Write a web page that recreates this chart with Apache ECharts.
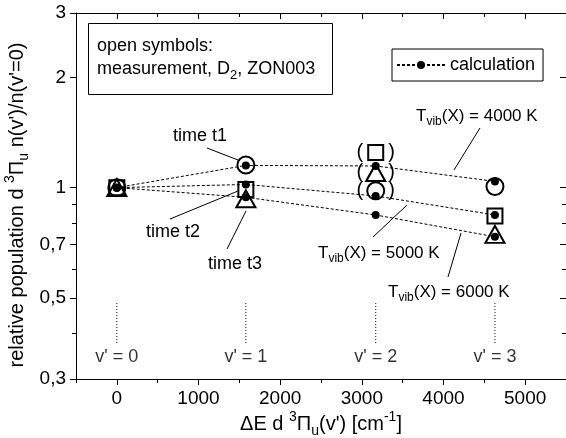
<!DOCTYPE html>
<html><head><meta charset="utf-8">
<script src="https://cdn.jsdelivr.net/npm/echarts@6/dist/echarts.min.js"></script>
<style>html,body{margin:0;padding:0;background:#fff}#c{width:566px;height:438px}</style>
</head><body><div id="c"></div>
<script>
// ---- data ----
const energies = [0, 1580, 3170, 4630];
const vLabels = ["v' = 0", "v' = 1", "v' = 2", "v' = 3"];
const calcT1 = [1, 1.15, 1.146, 1.04];   // Tvib = 4000 K
const calcT2 = [1, 1.02, 0.949, 0.842];  // Tvib = 5000 K
const calcT3 = [1, 0.941, 0.842, 0.734]; // Tvib = 6000 K
const measT1 = [1, 1.153, 0.98, 1.007];  // circles
const measT2 = [1, 0.988, 1.247, 0.837]; // squares
const measT3 = [1, 0.932, 1.10, 0.745];  // triangles
const uncertainIndex = 2;
const yLabelValues = [0.3, 0.5, 0.7, 1, 2, 3];
const yLabelTexts = ['0,3', '0,5', '0,7', '1', '2', '3'];
const yMinorValues = [0.4, 0.6, 0.8, 0.9];
const xLabelValues = [0, 1000, 2000, 3000, 4000, 5000];
const xMinorValues = [-500, 500, 1500, 2500, 3500, 4500, 5500];
const vMarkerRange = [0.376, 0.487];
const vLabelLevel = 0.344;
const yMin = 0.3, yMax = 3, xMin = -500, xMax = 5500;

// ---- build ----
const L = v => Math.log10(v);
const font = '"Liberation Sans", Arial, Helvetica, sans-serif';
const black = '#000';
const chart = echarts.init(document.getElementById('c'), null, {renderer: 'canvas'});

function pts(vals) { return energies.map((e, i) => [e, L(vals[i])]); }

function measSeries(name, vals, symbol, size) {
  return {
    type: 'scatter', name, symbol, symbolSize: size, z: 3, silent: true,
    itemStyle: {color: 'none', borderColor: black, borderWidth: 2, opacity: 1},
    data: energies.map((e, i) => {
      const d = {value: [e, L(vals[i])]};
      if (i === uncertainIndex) {
        d.label = {show: true, position: 'inside', formatter: '{p|(}{g|}{p|)}',
          rich: {p: {fontSize: 20, fontFamily: font, color: black}, g: {width: 25}}};
      }
      return d;
    })
  };
}
function calcSeries(vals) {
  return {
    type: 'line', name: 'calculation', data: pts(vals), z: 4, silent: true,
    symbol: 'circle', symbolSize: 8, showSymbol: true,
    itemStyle: {color: black},
    lineStyle: {color: black, width: 1, type: [3, 2]}
  };
}
const series = [];
series.push(measSeries('meas t1', measT1, 'circle', 17));
series.push(measSeries('meas t2', measT2, 'rect', 15));
series.push(measSeries('meas t3', measT3, 'triangle', [19, 17]));
series.push(calcSeries(calcT1), calcSeries(calcT2), calcSeries(calcT3));
energies.forEach((e, i) => {
  series.push({type: 'line', name: 'v' + i, silent: true, symbol: 'none', z: 1,
    data: [[e, L(vMarkerRange[0])], [e, L(vMarkerRange[1])]],
    lineStyle: {color: black, width: 1, type: [1, 2]}});
});
series.push({type: 'scatter', name: 'vlabels', silent: true, symbol: 'circle', symbolSize: 1,
  itemStyle: {color: 'rgba(0,0,0,0)'},
  label: {show: true, position: 'inside', color: black, fontSize: 18, fontFamily: font,
    formatter: p => vLabels[p.dataIndex]},
  data: energies.map(e => [e, L(vLabelLevel)])});

const lineSt = {color: black, width: 1};
function xAx(pos, ticks, len, inside, showLine, showLabel) {
  return {type: 'value', min: xMin, max: xMax, position: pos,
    axisLine: {show: showLine, onZero: false, lineStyle: lineSt},
    axisTick: {show: true, customValues: ticks, length: len, inside, lineStyle: lineSt},
    axisLabel: showLabel ? {customValues: xLabelValues, color: black, fontSize: 19, fontFamily: font, margin: 10,
      formatter: v => String(Math.round(v))} : {show: false},
    splitLine: {show: false}};
}
function yAx(pos, ticks, len, inside, showLine, showLabel) {
  return {type: 'value', min: L(yMin), max: L(yMax), position: pos,
    axisLine: {show: showLine, onZero: false, lineStyle: lineSt},
    axisTick: {show: true, customValues: ticks.map(L), length: len, inside, lineStyle: lineSt},
    axisLabel: showLabel ? {customValues: yLabelValues.map(L), color: black, fontSize: 19, fontFamily: font, margin: 10,
      formatter: v => { let best = 0; yLabelValues.forEach((t, i) => { if (Math.abs(L(t) - v) < Math.abs(L(yLabelValues[best]) - v)) best = i; }); return yLabelTexts[best]; }} : {show: false},
    splitLine: {show: false}};
}

function mkRich(size, small, lh) {
  return {
    n: {fontSize: size, fontFamily: font, lineHeight: lh, color: black},
    s: {fontSize: small, fontFamily: font, lineHeight: small + 1, verticalAlign: 'bottom', color: black},
    p: {fontSize: small, fontFamily: font, lineHeight: small + 1, verticalAlign: 'top', color: black}
  };
}
const rich17 = mkRich(17, 12, 24);
const rich18 = mkRich(18, 13, 25);
const rich20 = mkRich(20, 14, 28);
function txt(x, y, text, rich, align, rot) {
  return {type: 'text', x, y, rotation: rot || 0, silent: true, z: 10,
    style: {text, rich, align: align || 'left', verticalAlign: 'middle', fill: black, fontFamily: font}};
}
function seg(x1, y1, x2, y2) {
  return {type: 'line', silent: true, z: 10, shape: {x1, y1, x2, y2}, style: {stroke: black, lineWidth: 1}};
}
const graphic = [
  {type: 'rect', silent: true, z: 10, shape: {x: 88.5, y: 23.5, width: 244, height: 71}, style: {stroke: black, fill: '#fff', lineWidth: 1}},
  txt(97, 46, '{n|open symbols:}', rich18),
  txt(97, 69, '{n|measurement, D}{s|2}{n|, ZON003}', rich18),
  txt(200, 136, '{n|time t1}', rich18, 'center'),
  txt(173, 232, '{n|time t2}', rich18, 'center'),
  txt(235, 264, '{n|time t3}', rich18, 'center'),
  txt(416, 116, '{n|T}{s|vib}{n|(X) = 4000 K}', rich17),
  txt(318, 253, '{n|T}{s|vib}{n|(X) = 5000 K}', rich17),
  txt(388, 292, '{n|T}{s|vib}{n|(X) = 6000 K}', rich17),
  seg(207, 148, 238, 160),
  seg(170, 219, 238, 191),
  seg(227, 249, 246, 211),
  seg(480, 128, 454, 170),
  seg(373, 237, 407, 205),
  seg(448, 277, 461, 233),
  txt(17, 205, "{n|relative population d }{p|3}{n|Π}{s|u}{n| n(v')/n(v'=0)}", rich20, 'center', Math.PI / 2),
  txt(321, 424, "{n|ΔE d }{p|3}{n|Π}{s|u}{n|(v') [cm}{p|-1}{n|]}", rich20, 'center')
];

chart.setOption({
  animation: false,
  backgroundColor: '#fff',
  grid: {left: 76, top: 13, right: 0, bottom: 59, containLabel: false},
  xAxis: [
    xAx('bottom', xLabelValues, 6, false, true, true),
    xAx('bottom', xMinorValues, 4, false, false, false),
    xAx('top', xLabelValues, 6, true, true, false),
    xAx('top', xMinorValues, 4, true, false, false)
  ],
  yAxis: [
    yAx('left', yLabelValues, 6, false, true, true),
    yAx('left', yMinorValues, 4, false, false, false),
    yAx('right', yLabelValues, 6, true, false, false),
    yAx('right', yMinorValues, 4, true, false, false)
  ],
  legend: {show: true, data: ['calculation'], left: 392, top: 49, padding: [7, 8, 7, 4],
    itemWidth: 48, itemHeight: 10, borderColor: black, borderWidth: 1, borderRadius: 0,
    selectedMode: false, textStyle: {color: black, fontSize: 18, fontFamily: font}},
  series,
  graphic
});
</script></body></html>
